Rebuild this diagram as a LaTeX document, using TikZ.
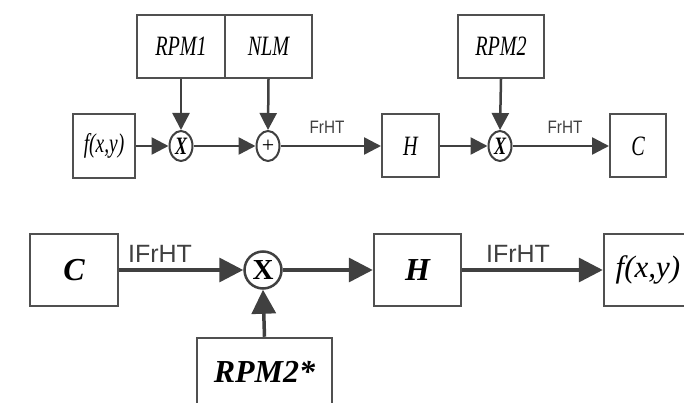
\documentclass[tikz,border=0pt]{standalone}
\usepackage{fontspec}
\usepackage{graphicx}
\setmainfont{Liberation Serif}
\setsansfont{Liberation Sans}
\usetikzlibrary{shapes.geometric,arrows.meta}
\definecolor{ln}{HTML}{404040}
\definecolor{bd}{HTML}{505050}
\newcommand\cmpx[1]{\scalebox{0.72}[1]{#1}}
\begin{document}
\begin{tikzpicture}[x=1pt,y=-1pt,
  tbox/.style={draw=bd,line width=2pt,rectangle,inner sep=0pt,fill=white,
    font=\fontsize{28}{30}\selectfont\itshape},
  bbox/.style={draw=bd,line width=2.5pt,rectangle,inner sep=0pt,fill=white,
    font=\fontsize{32}{34}\selectfont\bfseries\itshape},
  tcirc/.style={draw=ln,line width=2pt,ellipse,inner sep=0pt,fill=white,
    minimum width=23pt,minimum height=30pt,font=\fontsize{25}{25}\selectfont\bfseries\itshape},
  bcirc/.style={draw=ln,line width=2.5pt,circle,inner sep=0pt,fill=white,
    minimum size=37pt,font=\fontsize{29}{29}\selectfont\bfseries},
  tarr/.style={draw=ln,line width=2.5pt,-{Triangle[length=17pt,width=17pt]}},
  barr/.style={draw=ln,line width=3.5pt,-{Triangle[length=24pt,width=24pt]}},
  tlab/.style={font=\fontsize{18}{18}\selectfont\sffamily,text=ln,inner sep=0pt},
  blab/.style={font=\fontsize{25}{25}\selectfont\sffamily,text=ln,inner sep=0pt}]
\useasboundingbox (0,0) rectangle (684,403);
\clip (0,0) rectangle (684,403);
% top row
\node[tbox,minimum width=88pt,minimum height=63pt] (rpm1) at (181,46.5) {\cmpx{RPM1}};
\node[tbox,minimum width=87pt,minimum height=63pt] (nlm) at (268.5,46.5) {\cmpx{NLM}};
\node[tbox,minimum width=62pt,minimum height=64pt] (ft) at (104,146) {\cmpx{\fontsize{27}{27}\selectfont f(x,y)}};
\node[tcirc] (m1) at (181,146) {\cmpx{X}};
\node[tcirc,font=\fontsize{22}{22}\selectfont] (ad) at (268,146) {+};
\node[tbox,minimum width=57pt,minimum height=63pt] (ht) at (410.5,146) {\cmpx{H}};
\node[tbox,minimum width=86pt,minimum height=63pt] (rpm2) at (501,46.5) {\cmpx{RPM2}};
\node[tcirc] (m2) at (500,146) {\cmpx{X}};
\node[tbox,minimum width=56pt,minimum height=63pt] (ct) at (638,146) {\cmpx{C}};
\node[tlab] (l1) at (327,127) {\scalebox{0.85}[1]{FrHT}};
\node[tlab] (l2) at (565,127) {\scalebox{0.85}[1]{FrHT}};
\draw[tarr] (ft.east) -- (m1.west);
\draw[tarr] (rpm1.south) -- (m1.north);
\draw[tarr] (m1.east) -- (ad.west);
\draw[tarr] (nlm.south) -- (ad.north);
\draw[tarr] (ad.east) -- (ht.west);
\draw[tarr] (ht.east) -- (m2.west);
\draw[tarr] (rpm2.south) -- (m2.north);
\draw[tarr] (m2.east) -- (ct.west);
% bottom row
\node[bbox,minimum width=88pt,minimum height=72pt] (cb) at (74,270) {C};
\node[bcirc] (xb) at (263,270) {X};
\node[bbox,minimum width=87pt,minimum height=72pt] (hb) at (417.5,270) {H};
\node[bbox,minimum width=88pt,minimum height=72pt,font=\fontsize{31}{33}\selectfont\itshape] (fb) at (648,270) {f(x,y)};
\node[bbox,minimum width=135pt,minimum height=68pt] (rs) at (264.5,372) {RPM2*};
\node[blab] (l3) at (160,254) {IFrHT};
\node[blab] (l4) at (518,254) {IFrHT};
\draw[barr] (cb.east) -- (xb.west);
\draw[barr] (rs.north) -- (xb.south);
\draw[barr] (xb.east) -- (hb.west);
\draw[barr] (hb.east) -- (fb.west);
\end{tikzpicture}
\end{document}
